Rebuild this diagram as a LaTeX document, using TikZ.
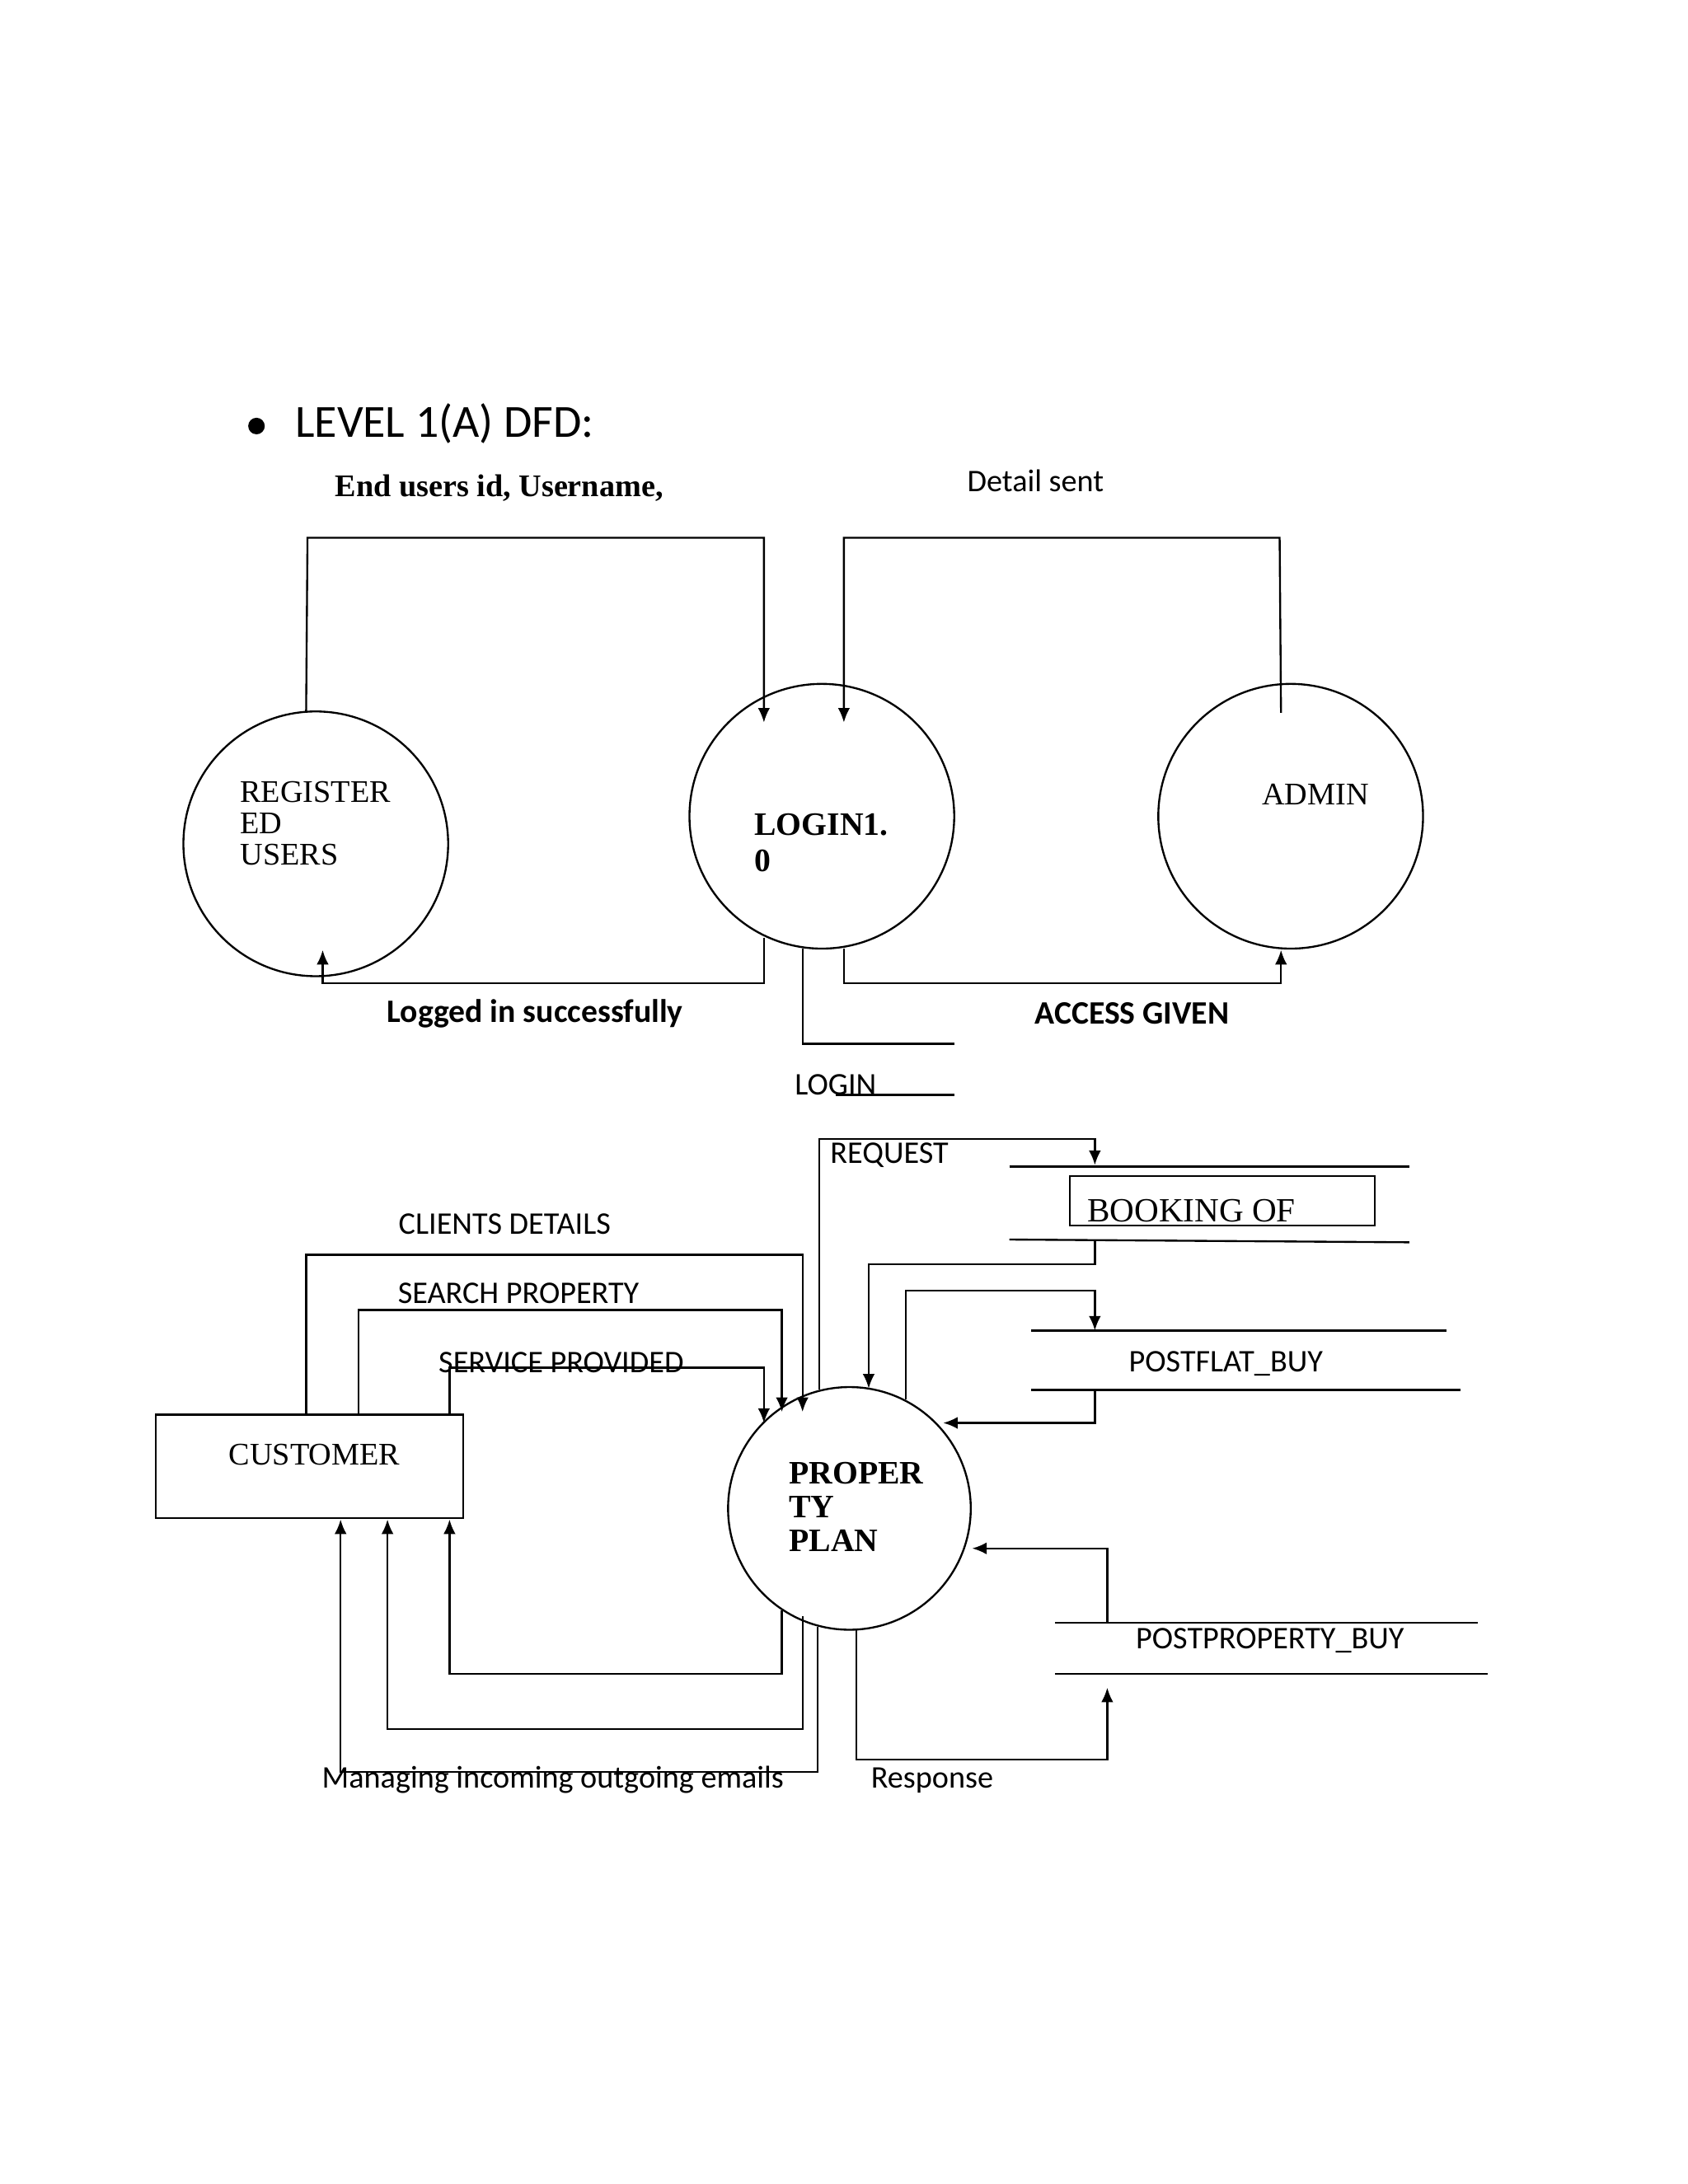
\documentclass[tikz,border=0pt]{standalone}
\usepackage{fontspec}
\setmainfont{Liberation Serif}
\newfontfamily\calfont{Carlito}
\usetikzlibrary{arrows.meta}
\begin{document}
\begin{tikzpicture}[x=0.02cm,y=-0.02cm,
  ln/.style={line width=0.8pt},
  ar/.style={line width=0.8pt,-{Latex[length=6pt,width=5pt]}},
  sans/.style={font=\calfont\fontsize{13}{15}\selectfont},
  sansb/.style={font=\calfont\bfseries\fontsize{13.5}{15}\selectfont},
  ser/.style={font=\fontsize{13}{15}\selectfont,align=left},
  serb/.style={font=\bfseries\fontsize{13.5}{16}\selectfont,align=left},
  proc/.style={draw,circle,line width=0.8pt,minimum size=192*0.02cm,inner sep=0pt}]
\useasboundingbox (0,0) rectangle (1224,1584);
% title
\fill (186,309) circle (6);
\node[anchor=west,font=\calfont\fontsize{19}{22}\selectfont] (title) at (208,307) {LEVEL 1(A) DFD:};
\node[font=\bfseries\fontsize{13}{15}\selectfont] (l1) at (362,354) {End users id, Username,};
\node[sans] (l2) at (751,349) {Detail sent};
% processes
\node[proc] (reg) at (229,612) {};
\node[ser,anchor=west] (regt) at (168,597) {REGISTER\\[-2pt]ED\\[-2pt]USERS};
\node[proc] (login) at (596,592) {};
\node[serb,anchor=west] (logint) at (541,611) {LOGIN1.\\[-1pt]0};
\node[proc] (admin) at (936,592) {};
\node[ser] (admint) at (954,576) {ADMIN};
% top connectors
\coordinate (a1) at (222,516);
\draw[ar] (a1) -- (223,390) -- (554,390) -- (554,524);
\coordinate (a2) at (929,517);
\draw[ar] (a2) -- (928,390) -- (612,390) -- (612,524);
\coordinate (a3) at (554,680);
\draw[ar] (a3) -- (554,713) -- (234,713) -- (234,689);
\coordinate (a4) at (612,688);
\draw[ar] (a4) -- (612,713) -- (929,713) -- (929,689);
\node[sansb] (lg) at (388,735) {Logged in successfully};
\node[sansb] (ag) at (821,735) {ACCESS GIVEN};
% LOGIN store
\coordinate (s1) at (582,688);
\draw[ln] (s1) -- (582,757) -- (692,757);
\draw[ln] (606,794) -- (692,794);
\node[sans] (lgs) at (606,787) {LOGIN};
% lower processes
\node[draw,line width=0.8pt,minimum width=223*0.02cm,minimum height=75*0.02cm,inner sep=0pt] (cust) at (224.5,1063.5) {};
\node[ser] (custt) at (228,1055) {CUSTOMER};
\node[draw,circle,line width=0.8pt,minimum size=176*0.02cm,inner sep=0pt] (pp) at (616,1094) {};
\node[serb,anchor=west] (ppt) at (566,1093) {PROPER\\[-2pt]TY\\[-2pt]PLAN};
% customer -> pp
\node[sans] (cd) at (366,888) {CLIENTS DETAILS};
\draw[ar] (222,1026) -- (222,910) -- (582,910) -- (582,1024);
\node[sans] (sp) at (376,938) {SEARCH PROPERTY};
\draw[ar] (260,1026) -- (260,950) -- (567,950) -- (567,1024);
\node[sans] (sv) at (407,988) {SERVICE PROVIDED};
\draw[ar] (326,1026) -- (326,992) -- (554,992) -- (554,1032);
% pp -> customer
\draw[ar] (567,1168) -- (567,1214) -- (326,1214) -- (326,1102);
\draw[ar] (582,1172) -- (582,1254) -- (281,1254) -- (281,1102);
\draw[ar] (593,1180) -- (593,1285) -- (247,1285) -- (247,1102);
\node[sans] (me) at (401,1291) {Managing incoming outgoing emails};
% request / booking
\draw[ar] (594,1008) -- (594,826) -- (794,826) -- (794,845);
\node[sans] (rq) at (645,838) {REQUEST};
\draw[ln] (732,846) -- (1022,846);
\draw[ln] (732,899) -- (1022,901);
\node[draw,line width=0.8pt,minimum width=221*0.02cm,minimum height=36*0.02cm,inner sep=0pt] (bk) at (886.5,871) {};
\begin{scope}
\clip (776,853) rectangle (997,887);
\node[font=\fontsize{14}{16}\selectfont] (bkt) at (864,878) {BOOKING OF};
\end{scope}
\draw[ar] (794,900) -- (794,917) -- (630,917) -- (630,1007);
% postflat
\draw[ar] (657,1015) -- (657,936) -- (794,936) -- (794,965);
\draw[ln] (748,965) -- (1049,965);
\draw[ln] (748,1008) -- (1059,1008);
\node[sans] (pf) at (889,989) {POSTFLAT\_BUY};
\draw[ar] (794,1008) -- (794,1032) -- (684,1032);
% postproperty
\draw[ln] (765,1177) -- (1072,1177);
\draw[ln] (765,1214) -- (1079,1214);
\node[sans] (ppb) at (921,1190) {POSTPROPERTY\_BUY};
\draw[ar] (803,1177) -- (803,1123) -- (705,1123);
\draw[ar] (621,1181) -- (621,1276) -- (803,1276) -- (803,1224);
\node[sans] (rs) at (676,1291) {Response};
\end{tikzpicture}
\end{document}
